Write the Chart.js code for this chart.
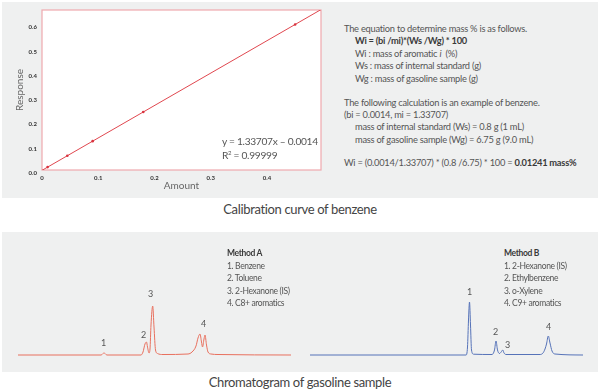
<!DOCTYPE html>
<html>
<head>
<meta charset="utf-8">
<script src="https://cdn.jsdelivr.net/npm/chart.js@4.4.1/dist/chart.umd.min.js"></script>
<style>
  body { margin: 0; width: 600px; height: 392px; background: #fff; position: relative; overflow: hidden; font-family: Lato, "Noto Sans", sans-serif; color: #555; }
  .panel { position: absolute; background: #eff0f0; }
  .abs { position: absolute; white-space: nowrap; line-height: 12px; }
  .txt { font-size: 9.3px; letter-spacing: -0.25px; }
  .leg { font-size: 8.5px; letter-spacing: -0.35px; }
  .cap { font-size: 13px; letter-spacing: -0.35px; color: #444; line-height: 16px; }
  .pk { font-size: 9px; color: #555; }
  canvas { position: absolute; }
  b { color: #3a3a3a; }
</style>
</head>
<body>
<div class="panel" style="left:2px;top:2px;width:596px;height:196px"></div>
<div class="panel" style="left:2px;top:232px;width:596px;height:140px"></div>

<canvas id="calibChart" width="330" height="196" style="left:0;top:0"></canvas>
<canvas id="chromA" width="273" height="70" style="left:18px;top:290px"></canvas>
<canvas id="chromB" width="273" height="70" style="left:310px;top:290px"></canvas>

<!-- fit equation -->
<div class="abs" style="left:222px;top:135px;font-size:10.2px;letter-spacing:-0.3px">y = 1.33707x – 0.0014</div>
<div class="abs" style="left:222px;top:149px;font-size:10.2px;letter-spacing:-0.3px">R<sup style="font-size:6px;line-height:0">2</sup> = 0.99999</div>

<!-- calculation notes -->
<div class="abs txt" style="left:344px;top:23px">The equation to determine mass % is as follows.</div>
<div class="abs txt" style="left:355px;top:35px"><b>Wi = (bi /mi)*(Ws /Wg) * 100</b></div>
<div class="abs txt" style="left:355px;top:48px">Wi : mass of aromatic <i>i</i>&nbsp; (%)</div>
<div class="abs txt" style="left:355px;top:60px">Ws : mass of internal standard (g)</div>
<div class="abs txt" style="left:355px;top:73px">Wg : mass of gasoline sample (g)</div>
<div class="abs txt" style="left:344px;top:97px">The following calculation is an example of benzene.</div>
<div class="abs txt" style="left:344px;top:109px">(bi = 0.0014, mi = 1.33707)</div>
<div class="abs txt" style="left:355px;top:121px">mass of internal standard (Ws) = 0.8 g (1 mL)</div>
<div class="abs txt" style="left:355px;top:134px">mass of gasoline sample (Wg) = 6.75 g (9.0 mL)</div>
<div class="abs txt" style="left:344px;top:157px">Wi = (0.0014/1.33707) * (0.8 /6.75) * 100 = <b>0.01241 mass%</b></div>

<div class="abs cap" style="left:0;width:600px;text-align:center;top:201px">Calibration curve of benzene</div>
<div class="abs cap" style="left:0;width:600px;text-align:center;top:374px">Chromatogram of gasoline sample</div>

<!-- legends -->
<div class="abs leg" style="left:227px;top:247px"><b>Method A</b></div>
<div class="abs leg" style="left:227px;top:260px">1. Benzene</div>
<div class="abs leg" style="left:227px;top:272px">2. Toluene</div>
<div class="abs leg" style="left:227px;top:285px">3. 2-Hexanone (IS)</div>
<div class="abs leg" style="left:227px;top:297px">4. C8+ aromatics</div>

<div class="abs leg" style="left:504px;top:247px"><b>Method B</b></div>
<div class="abs leg" style="left:504px;top:260px">1. 2-Hexanone (IS)</div>
<div class="abs leg" style="left:504px;top:272px">2. Ethylbenzene</div>
<div class="abs leg" style="left:504px;top:285px">3. o-Xylene</div>
<div class="abs leg" style="left:504px;top:297px">4. C9+ aromatics</div>

<!-- peak numbers -->
<div class="abs pk" style="left:101px;top:337px">1</div>
<div class="abs pk" style="left:141px;top:329px">2</div>
<div class="abs pk" style="left:148px;top:288px">3</div>
<div class="abs pk" style="left:201px;top:318px">4</div>
<div class="abs pk" style="left:467px;top:286px">1</div>
<div class="abs pk" style="left:493px;top:326px">2</div>
<div class="abs pk" style="left:505px;top:339px">3</div>
<div class="abs pk" style="left:546px;top:321px">4</div>

<script>
// calibration points (amount vs response)
const amount = [0.01, 0.045, 0.09, 0.18, 0.45];
const response = [0.012, 0.059, 0.119, 0.239, 0.600];
// fitted line end points
const fitAmount = [0, 0.496];
const fitResponse = [-0.0014, 0.6618];

// chromatogram, method A (time in min, signal)
const timeA = [0, 8.3, 8.5, 8.6, 8.7, 8.9, 12.3, 12.5, 12.7, 12.85, 12.95, 13.1, 13.2, 13.3, 13.47, 13.6, 13.75, 13.95, 14.5,
  17.0, 17.4, 17.8, 18.0, 18.2, 18.35, 18.45, 18.6, 18.7, 18.85, 19.0, 19.3, 20.0, 27.3];
const signalA = [0, 0, 1.5, 2, 1.5, 0, 0, 3, 11, 13, 8, 2, 6, 30, 49, 28, 5, 1.5, 0.5,
  1, 3, 9, 17, 21, 13, 8, 16, 20, 10, 3, 1, 0.5, 0];

// chromatogram, method B
const timeB = [0, 15.6, 15.75, 15.85, 15.95, 16.05, 16.15, 16.35, 18.2, 18.45, 18.6, 18.75, 18.95, 19.15, 19.27, 19.4, 19.6,
  23.0, 23.3, 23.5, 23.65, 23.83, 24.0, 24.2, 24.5, 27.3];
const signalB = [0, 0, 8, 35, 53, 30, 5, 0.8, 0.5, 5, 14, 5, 1.5, 3.5, 5, 2, 0.5,
  0.5, 2, 6, 11, 19, 12, 4, 1, 0];

const xTicks = [0, 0.1, 0.2, 0.3, 0.4];

function toXY(xs, ys) {
    return xs.map((x, i) => ({ x: x, y: ys[i] }));
}

// white plot background + pink frame
const frame = {
    id: 'frame',
    beforeDatasetsDraw(chart) {
        const a = chart.chartArea;
        const ctx = chart.ctx;
        ctx.save();
        ctx.fillStyle = '#ffffff';
        ctx.fillRect(a.left, a.top, a.right - a.left, a.bottom - a.top);
        ctx.strokeStyle = '#eea9ae';
        ctx.lineWidth = 1.2;
        ctx.strokeRect(a.left, a.top, a.right - a.left, a.bottom - a.top);
        ctx.restore();
    }
};

new Chart(document.getElementById('calibChart'), {
    type: 'scatter',
    data: {
        datasets: [{
            data: toXY(amount, response),
            pointRadius: 1.3,
            pointBackgroundColor: '#d8323e',
            pointBorderWidth: 0,
            showLine: false
        }, {
            data: toXY(fitAmount, fitResponse),
            showLine: true,
            borderColor: '#e0474f',
            borderWidth: 1,
            pointRadius: 0
        }]
    },
    options: {
        responsive: false,
        animation: false,
        layout: { padding: { top: 10, right: 9 } },
        plugins: { legend: { display: false }, tooltip: { enabled: false } },
        scales: {
            x: {
                type: 'linear', min: 0, max: 0.496,
                afterBuildTicks: s => { s.ticks = xTicks.map(v => ({ value: v })); },
                afterFit: s => { s.height = 26; },
                grid: { display: false, drawTicks: false },
                border: { display: false },
                ticks: {
                    padding: 4,
                    color: '#333',
                    font: { family: 'Lato', size: 6, weight: 'bold' },
                    callback: v => v === 0 ? '0' : v.toFixed(1)
                },
                title: { display: true, text: 'Amount', color: '#666', padding: { top: 0, bottom: 4 }, font: { family: 'Lato', size: 10 } }
            },
            y: {
                min: 0, max: 0.66,
                ticks: {
                    stepSize: 0.1,
                    includeBounds: false,
                    padding: 5,
                    labelOffset: 3,
                    color: '#333',
                    font: { family: 'Lato', size: 6, weight: 'bold' },
                    callback: v => v.toFixed(1)
                },
                afterFit: s => { s.width = 42; },
                grid: { display: false, drawTicks: false },
                border: { display: false },
                title: { display: true, text: 'Response', color: '#666', padding: { top: 14, bottom: 0 }, font: { family: 'Lato', size: 10 } }
            }
        }
    },
    plugins: [frame]
});

function chromOptions() {
    return {
        responsive: false,
        animation: false,
        layout: { padding: 0 },
        plugins: { legend: { display: false }, tooltip: { enabled: false } },
        scales: {
            x: { type: 'linear', min: 0, max: 27.3, display: false },
            y: { min: -5, max: 65, display: false }
        }
    };
}

new Chart(document.getElementById('chromA'), {
    type: 'line',
    data: {
        datasets: [{
            data: toXY(timeA, signalA),
            borderColor: '#e8705e',
            borderWidth: 1,
            pointRadius: 0,
            cubicInterpolationMode: 'monotone',
            clip: false
        }]
    },
    options: chromOptions()
});

new Chart(document.getElementById('chromB'), {
    type: 'line',
    data: {
        datasets: [{
            data: toXY(timeB, signalB),
            borderColor: '#5572b8',
            borderWidth: 1,
            pointRadius: 0,
            cubicInterpolationMode: 'monotone',
            clip: false
        }]
    },
    options: chromOptions()
});
</script>
</body>
</html>
